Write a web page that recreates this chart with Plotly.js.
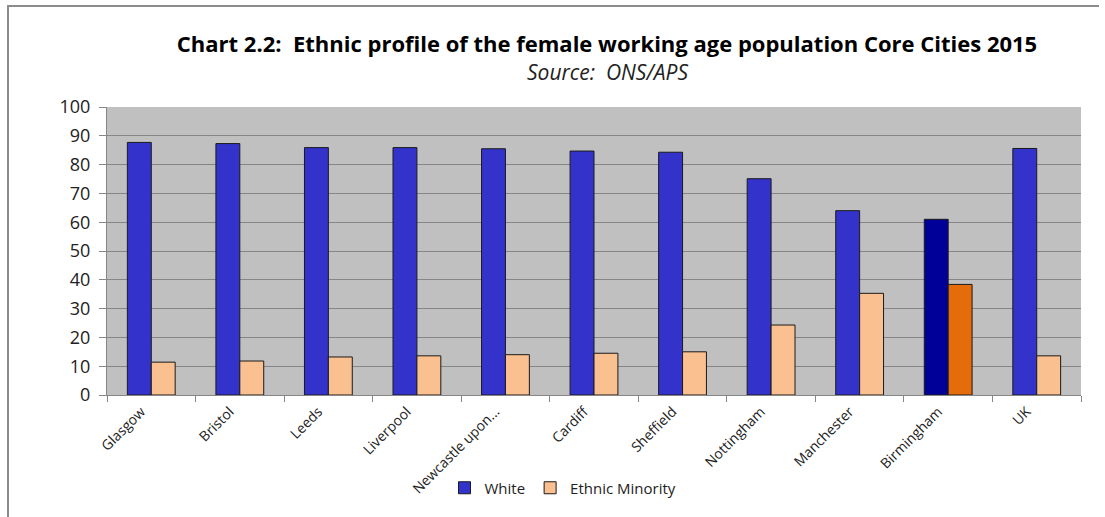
<!DOCTYPE html>
<html>
<head>
<meta charset="utf-8">
<script src="https://cdn.plot.ly/plotly-3.0.1.min.js"></script>
<style>
  html, body { margin: 0; padding: 0; background: #fff; }
  #wrap { position: relative; width: 1105px; height: 517px; }
  #chart { position: absolute; left: 0; top: 0; width: 1105px; height: 517px; }
  #frame { position: absolute; left: 7px; top: 5px; width: 1090px; height: 520px;
           border-left: 2px solid #8c8c8c; border-top: 2px solid #8c8c8c; pointer-events: none; }
</style>
</head>
<body>
<div id="wrap">
  <div id="chart"></div>
  <div id="frame"></div>
</div>
<script>
const categories = ["Glasgow", "Bristol", "Leeds", "Liverpool", "Newcastle upon...", "Cardiff",
                    "Sheffield", "Nottingham", "Manchester", "Birmingham", "UK"];
const whiteValues = [87.7, 87.3, 85.9, 85.9, 85.5, 84.7, 84.3, 75.1, 64.0, 61.0, 85.6];
const minorityValues = [11.4, 11.8, 13.2, 13.6, 14.0, 14.5, 15.0, 24.3, 35.3, 38.4, 13.6];
const yTicks = [0, 10, 20, 30, 40, 50, 60, 70, 80, 90, 100];
const highlight = "Birmingham";

const whiteColors = categories.map(c => c === highlight ? "#000099" : "#3333CC");
const minorityColors = categories.map(c => c === highlight ? "#E46C0A" : "#FAC090");

const FONT = "Open Sans, Noto Sans, sans-serif";

const traces = [
  { type: "bar", name: "White", x: categories, y: whiteValues,
    marker: { color: whiteColors, line: { color: "#1a1a1a", width: 1 } }, hoverinfo: "x+y" },
  { type: "bar", name: "Ethnic Minority", x: categories, y: minorityValues,
    marker: { color: minorityColors, line: { color: "#1a1a1a", width: 1 } }, hoverinfo: "x+y" }
];

const layout = {
  width: 1105, height: 517,
  margin: { l: 107, r: 24, t: 107, b: 122 },
  paper_bgcolor: "rgba(0,0,0,0)",
  plot_bgcolor: "#C0C0C0",
  barmode: "group",
  bargap: 0.46,
  bargroupgap: 0,
  showlegend: true,
  title: {
    text: "<b>Chart 2.2:  Ethnic profile of the female working age population Core Cities 2015</b>",
    font: { family: FONT, size: 22, color: "#000" },
    x: (607 - 107) / 974, xanchor: "center", xref: "paper",
    y: 1 - 44 / 517, yanchor: "middle", yref: "container"
  },
  annotations: [{
    text: "<i>Source:  ONS/APS</i>", xref: "paper", yref: "paper",
    x: (607 - 107) / 974, y: 1 + (107 - 72) / 288, xanchor: "center", yanchor: "middle",
    showarrow: false, font: { family: FONT, size: 21, color: "#222" }
  }],
  xaxis: {
    type: "category",
    tickangle: -45,
    tickfont: { family: FONT, size: 14, color: "#222" },
    showline: true, linecolor: "#868686", linewidth: 1,
    ticks: "outside", ticklen: 6, tickcolor: "#868686",
    tickson: "boundaries",
    showgrid: false,
    ticklabelshift: -10,
    ticklabelstandoff: 2
  },
  yaxis: {
    range: [0, 100],
    tickvals: yTicks,
    ticktext: yTicks.map(String),
    tickfont: { family: FONT, size: 18, color: "#222" },
    showline: true, linecolor: "#868686", linewidth: 1,
    ticks: "outside", ticklen: 7, tickcolor: "#868686",
    ticklabelstandoff: 5,
    showgrid: true, gridcolor: "#868686", gridwidth: 1,
    zeroline: false
  },
  legend: {
    orientation: "h",
    x: (563 - 107) / 974, xanchor: "center",
    y: -(488 - 395) / 288, yanchor: "middle",
    font: { family: FONT, size: 15, color: "#222" },
    bgcolor: "rgba(0,0,0,0)",
    itemwidth: 30,
    traceorder: "normal"
  }
};

Plotly.newPlot("chart", traces, layout, { displayModeBar: false, staticPlot: true });
</script>
</body>
</html>
